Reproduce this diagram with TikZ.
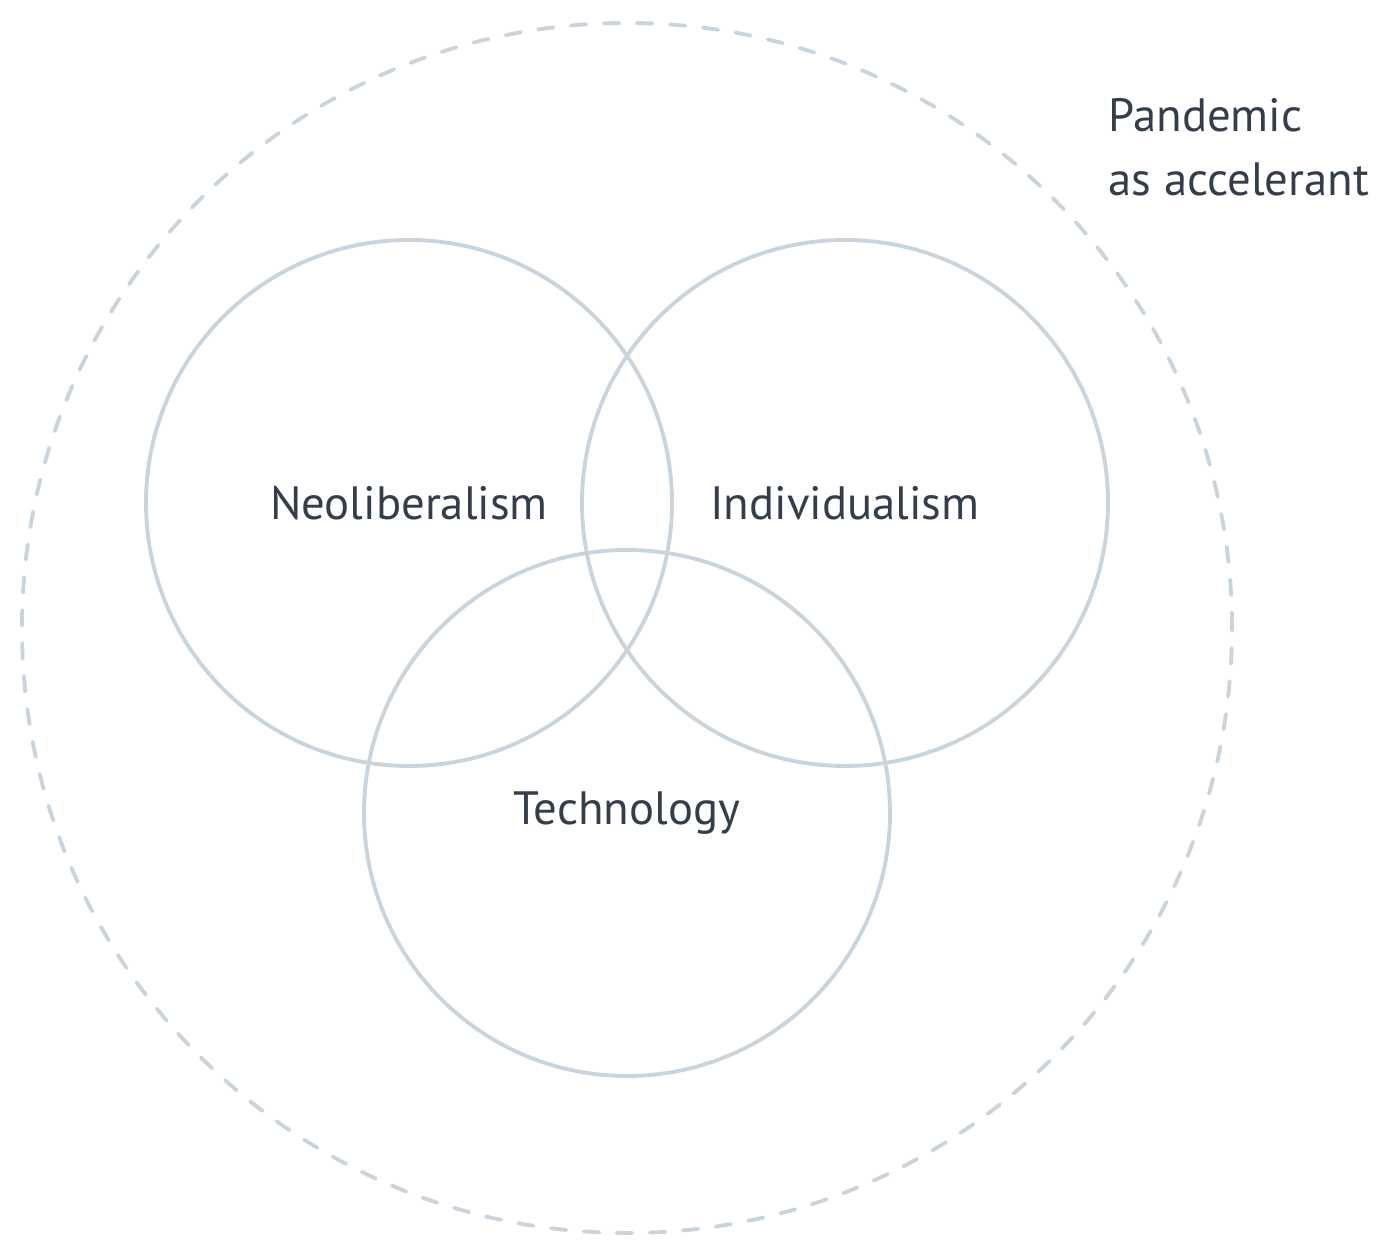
\documentclass[tikz,border=0pt]{standalone}
\usepackage{fontspec}
\setmainfont{PT Sans}
\usepackage{tikz}
\definecolor{ringgray}{HTML}{CAD4DD}
\definecolor{labelink}{HTML}{333E4A}

\begin{document}
\begin{tikzpicture}[every node/.style={text=labelink,font=\fontsize{13.3}{18}\selectfont}]
			\useasboundingbox (0,0) rectangle (14,12.57);
			\node[draw=ringgray,dash pattern=on 4.4pt off 5pt,line cap=round,line width=1.1pt,circle,minimum size=12.1cm] (Pandemic) at (6.27,6.29) {};
			\node[draw=ringgray,line width=1.1pt,circle,minimum size=5.26cm] (Neoliberalism) at (4.09,7.54) {Neoliberalism};
			\node[draw=ringgray,line width=1.1pt,circle,minimum size=5.26cm] (Individualism) at (8.45,7.54) {Individualism};
			\node[draw=ringgray,line width=1.1pt,circle,minimum size=5.26cm] (Technology) at (6.27,4.44) {Technology};
			\node[anchor=west,align=left,inner sep=0pt] (Accelerant) at (11.08,11.1) {Pandemic\\[0.3pt]as accelerant};
\end{tikzpicture}
\end{document}
